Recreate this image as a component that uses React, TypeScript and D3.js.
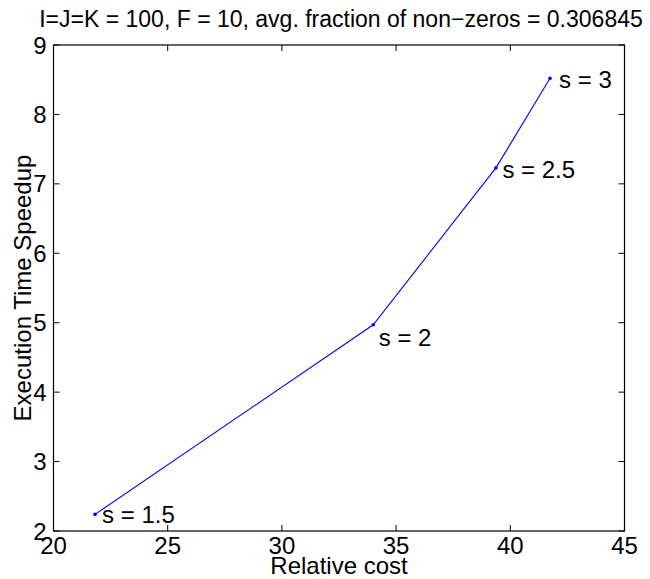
import React from "react";
import * as d3 from "d3";

// Relative cost vs. speedup for each sampling factor s
const sampleFactors = ["1.5", "2", "2.5", "3"];
const relativeCost = [21.82, 34.0, 39.37, 41.74];
const speedup = [2.24, 4.97, 7.23, 8.52];

const xTicks = [20, 25, 30, 35, 40, 45];
const yTicks = [2, 3, 4, 5, 6, 7, 8, 9];

const titleText = "I=J=K = 100, F = 10, avg. fraction of non\u2212zeros = 0.306845";
const xLabelText = "Relative cost";
const yLabelText = "Execution Time Speedup";

// label placement relative to each point (pixels)
const labelOffsets: [number, number][] = [
  [7, 8.5],
  [5.5, 21.5],
  [6.5, 10],
  [9, 10],
];

const W = 650;
const H = 579;
const margin = { left: 53.5, right: 25.5, top: 45, bottom: 48 };
const FONT = "'Liberation Sans', Arial, Helvetica, sans-serif";
const FS = 24;
const TITLE_FS = 23;
const TICK = 6;

export default function App() {
  const x = d3
    .scaleLinear()
    .domain([20, 45])
    .range([margin.left, W - margin.right]);
  const y = d3
    .scaleLinear()
    .domain([2, 9])
    .range([H - margin.bottom, margin.top]);

  const pts = relativeCost.map((c, i) => [c, speedup[i]] as [number, number]);
  const line = d3
    .line<[number, number]>()
    .x((d) => x(d[0]))
    .y((d) => y(d[1]));

  const x0 = x(20);
  const x1 = x(45);
  const y0 = y(2);
  const y1 = y(9);

  return (
    <svg
      width={W}
      height={H}
      style={{ position: "absolute", left: 0, top: 0, background: "#fff" }}
      fontFamily={FONT}
    >
      <rect x={0} y={0} width={W} height={H} fill="#fff" />

      {/* data line */}
      <path d={line(pts) ?? ""} fill="none" stroke="#0000ff" strokeWidth={1.1} />
      {pts.map((p, i) => (
        <circle key={i} cx={x(p[0])} cy={y(p[1])} r={1.8} fill="#0000ff" />
      ))}
      {pts.map((p, i) => (
        <text
          key={"l" + i}
          x={x(p[0]) + labelOffsets[i][0]}
          y={y(p[1]) + labelOffsets[i][1]}
          fontSize={FS}
          fill="#000"
        >
          {"s = " + sampleFactors[i]}
        </text>
      ))}

      {/* axes box */}
      <rect x={x0} y={y1} width={x1 - x0} height={y0 - y1} fill="none" stroke="#000" strokeWidth={1.2} />

      {/* x ticks, bottom and top, inward */}
      {xTicks.map((t) => (
        <g key={"xt" + t}>
          <line x1={x(t)} x2={x(t)} y1={y0} y2={y0 - TICK} stroke="#000" strokeWidth={1} />
          <line x1={x(t)} x2={x(t)} y1={y1} y2={y1 + TICK} stroke="#000" strokeWidth={1} />
          <text x={x(t)} y={y0 + 23} textAnchor="middle" fontSize={FS} fill="#000">
            {t}
          </text>
        </g>
      ))}

      {/* y ticks, left and right, inward */}
      {yTicks.map((t) => (
        <g key={"yt" + t}>
          <line x1={x0} x2={x0 + TICK} y1={y(t)} y2={y(t)} stroke="#000" strokeWidth={1} />
          <line x1={x1} x2={x1 - TICK} y1={y(t)} y2={y(t)} stroke="#000" strokeWidth={1} />
          <text x={x0 - 7} y={y(t) + 8.5} textAnchor="end" fontSize={FS} fill="#000">
            {t}
          </text>
        </g>
      ))}

      {/* title and axis labels */}
      <text x={341} y={27} textAnchor="middle" fontSize={TITLE_FS} fill="#000">
        {titleText}
      </text>
      <text x={(x0 + x1) / 2} y={574} textAnchor="middle" fontSize={FS} fill="#000">
        {xLabelText}
      </text>
      <text
        transform={`translate(30.5, ${(y0 + y1) / 2}) rotate(-90)`}
        textAnchor="middle"
        fontSize={FS}
        fill="#000"
      >
        {yLabelText}
      </text>
    </svg>
  );
}
